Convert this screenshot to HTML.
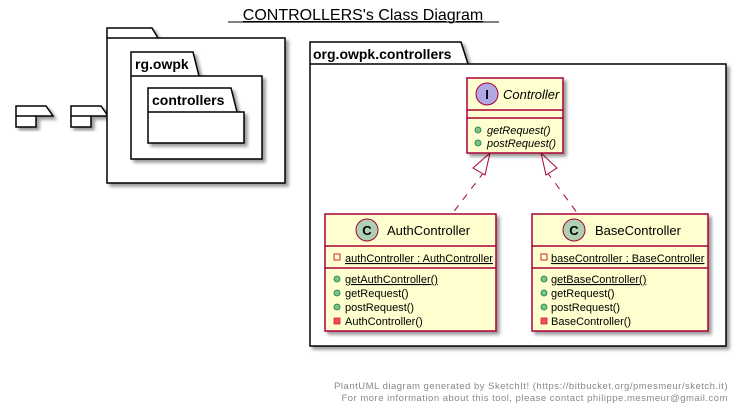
<!DOCTYPE html>
<html><head><meta charset="utf-8"><style>
html,body{margin:0;padding:0;background:#fff;}
svg{display:block;}
text{font-family:"Liberation Sans",sans-serif;}
</style></head><body>
<svg width="740" height="408" viewBox="0 0 740 408" xmlns="http://www.w3.org/2000/svg">
<defs><filter id="sh" x="-10%" y="-10%" width="130%" height="130%"><feGaussianBlur in="SourceAlpha" stdDeviation="1.5"/><feOffset dx="3" dy="3"/><feComponentTransfer><feFuncA type="linear" slope="0.4"/></feComponentTransfer><feMerge><feMergeNode/><feMergeNode in="SourceGraphic"/></feMerge></filter></defs>
<text x="363" y="20" font-size="16" text-anchor="middle" text-decoration="underline">CONTROLLERS's Class Diagram</text>
<line x1="228" y1="22" x2="499" y2="22" stroke="#000" stroke-width="1"/>

<g fill="#fff" stroke="#000" stroke-width="1.5" filter="url(#sh)">
<path d="M16,106 L46,106 L53,116 L36,116 L36,127 L16,127 Z"/>
<path d="M71,106 L101,106 L108,116 L91,116 L91,127 L71,127 Z"/>
</g>
<line x1="16" y1="116" x2="36" y2="116" stroke="#000" stroke-width="1.5"/>
<line x1="71" y1="116" x2="91" y2="116" stroke="#000" stroke-width="1.5"/>

<g fill="#fff" stroke="#000" stroke-width="1.5" filter="url(#sh)">
<path d="M107,28 L152,28 L158,38 L285,38 L285,183 L107,183 Z"/>
</g>
<line x1="107" y1="38" x2="158" y2="38" stroke="#000" stroke-width="1.5"/>
<g fill="#fff" stroke="#000" stroke-width="1.5" filter="url(#sh)">
<path d="M131,52 L193,52 L199,76 L262,76 L262,159 L131,159 Z"/>
</g>
<line x1="131" y1="76" x2="199" y2="76" stroke="#000" stroke-width="1.5"/>
<text x="135" y="69" font-size="14" font-weight="bold">rg.owpk</text>
<g fill="#fff" stroke="#000" stroke-width="1.5" filter="url(#sh)">
<path d="M148,88 L231,88 L237,112 L244,112 L244,143 L148,143 Z"/>
</g>
<line x1="148" y1="112" x2="237" y2="112" stroke="#000" stroke-width="1.5"/>
<text x="152" y="105" font-size="14" font-weight="bold">controllers</text>

<g fill="#fff" stroke="#000" stroke-width="1.5" filter="url(#sh)">
<path d="M310,42 L461,42 L468,64 L726,64 L726,346 L310,346 Z"/>
</g>
<line x1="310" y1="64" x2="468" y2="64" stroke="#000" stroke-width="1.5"/>
<text x="313" y="59" font-size="14" font-weight="bold">org.owpk.controllers</text>

<!-- arrows -->
<g stroke="#A80036" fill="none" stroke-width="1">
<line x1="484" y1="172" x2="452" y2="214" stroke-dasharray="7,7"/>
<line x1="547" y1="172" x2="578" y2="214" stroke-dasharray="7,7"/>
<path d="M490,153 L473,168 L485,175 Z" fill="#fff"/>
<path d="M541,153 L557,168 L546,175 Z" fill="#fff"/>
</g>

<!-- Controller -->
<g filter="url(#sh)"><rect x="467" y="78" width="96" height="75" fill="#FEFECE" stroke="#A80036" stroke-width="1.5"/></g>
<line x1="467" y1="110" x2="563" y2="110" stroke="#A80036" stroke-width="1.5"/>
<line x1="467" y1="118" x2="563" y2="118" stroke="#A80036" stroke-width="1.5"/>
<circle cx="487" cy="94" r="11" fill="#B4A7E5" stroke="#A80036" stroke-width="1"/>
<text x="487" y="99" font-size="13" font-weight="bold" text-anchor="middle">I</text>
<text x="503" y="99" font-size="13" font-style="italic">Controller</text>
<circle cx="478" cy="130" r="3" fill="#84BE84" stroke="#038048" stroke-width="0.8"/>
<circle cx="478" cy="143" r="3" fill="#84BE84" stroke="#038048" stroke-width="0.8"/>
<text x="487" y="134" font-size="11" font-style="italic">getRequest()</text>
<text x="487" y="147" font-size="11" font-style="italic">postRequest()</text>

<!-- Auth -->
<g filter="url(#sh)"><rect x="325" y="214" width="171" height="117" fill="#FEFECE" stroke="#A80036" stroke-width="1.5"/></g>
<line x1="325" y1="246" x2="496" y2="246" stroke="#A80036" stroke-width="1.5"/>
<line x1="325" y1="268" x2="496" y2="268" stroke="#A80036" stroke-width="1.5"/>
<circle cx="367" cy="230" r="11" fill="#ADD1B2" stroke="#A80036" stroke-width="1"/>
<text x="367" y="235" font-size="13" font-weight="bold" text-anchor="middle">C</text>
<text x="387" y="235" font-size="13">AuthController</text>
<rect x="334" y="254" width="6" height="6" fill="none" stroke="#C82930" stroke-width="1"/>
<text x="345" y="262" font-size="11" text-decoration="underline">authController : AuthController</text>
<circle cx="337" cy="279" r="3" fill="#84BE84" stroke="#038048" stroke-width="0.8"/>
<circle cx="337" cy="293" r="3" fill="#84BE84" stroke="#038048" stroke-width="0.8"/>
<circle cx="337" cy="307" r="3" fill="#84BE84" stroke="#038048" stroke-width="0.8"/>
<rect x="334" y="318" width="6" height="6" fill="#F24D5C" stroke="#C82930" stroke-width="0.8"/>
<text x="345" y="283" font-size="11" text-decoration="underline">getAuthController()</text>
<text x="345" y="297" font-size="11">getRequest()</text>
<text x="345" y="311" font-size="11">postRequest()</text>
<text x="345" y="325" font-size="11">AuthController()</text>

<!-- Base -->
<g filter="url(#sh)"><rect x="532" y="214" width="176" height="117" fill="#FEFECE" stroke="#A80036" stroke-width="1.5"/></g>
<line x1="532" y1="246" x2="708" y2="246" stroke="#A80036" stroke-width="1.5"/>
<line x1="532" y1="268" x2="708" y2="268" stroke="#A80036" stroke-width="1.5"/>
<circle cx="574" cy="230" r="11" fill="#ADD1B2" stroke="#A80036" stroke-width="1"/>
<text x="574" y="235" font-size="13" font-weight="bold" text-anchor="middle">C</text>
<text x="595" y="235" font-size="13">BaseController</text>
<rect x="541" y="254" width="6" height="6" fill="none" stroke="#C82930" stroke-width="1"/>
<text x="551" y="262" font-size="11" text-decoration="underline">baseController : BaseController</text>
<circle cx="544" cy="279" r="3" fill="#84BE84" stroke="#038048" stroke-width="0.8"/>
<circle cx="544" cy="293" r="3" fill="#84BE84" stroke="#038048" stroke-width="0.8"/>
<circle cx="544" cy="307" r="3" fill="#84BE84" stroke="#038048" stroke-width="0.8"/>
<rect x="541" y="318" width="6" height="6" fill="#F24D5C" stroke="#C82930" stroke-width="0.8"/>
<text x="551" y="283" font-size="11" text-decoration="underline">getBaseController()</text>
<text x="551" y="297" font-size="11">getRequest()</text>
<text x="551" y="311" font-size="11">postRequest()</text>
<text x="551" y="325" font-size="11">BaseController()</text>

<text x="728" y="389" font-size="9.5" fill="#888" text-anchor="end" letter-spacing="0.5">PlantUML diagram generated by SketchIt! (https://bitbucket.org/pmesmeur/sketch.it)</text>
<text x="728" y="401" font-size="9.5" fill="#888" text-anchor="end" letter-spacing="0.5">For more information about this tool, please contact philippe.mesmeur@gmail.com</text>
</svg>
</body></html>
